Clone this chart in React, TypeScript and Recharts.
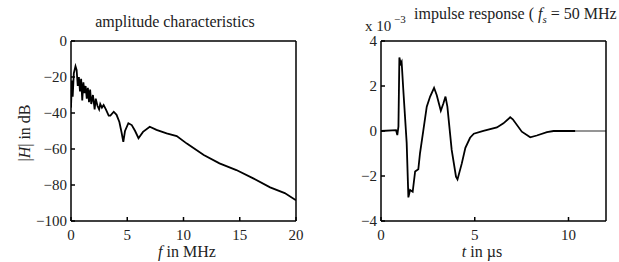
import { LineChart, Line, XAxis, YAxis } from "recharts";

// amplitude characteristics
const freqMHz = [0, 0.08, 0.15, 0.25, 0.4, 0.5, 0.6, 0.7, 0.8, 0.9, 1.0, 1.1, 1.2, 1.3, 1.4, 1.5, 1.6, 1.7, 1.8, 1.95, 2.1, 2.2, 2.35, 2.5, 2.6, 2.75, 2.9, 3.1, 3.35, 3.5, 3.8, 4.05, 4.3, 4.5, 4.65, 4.8, 5.1, 5.4, 5.7, 6.0, 6.4, 7.0, 7.6, 8.5, 9.4, 10.3, 11.8, 13.2, 14.7, 16.2, 17.7, 19, 20];
const magnitudeDb = [-37, -22, -31, -18, -14, -16, -25, -20, -28, -21, -33, -23, -29, -25, -32, -26, -34, -27, -35, -30, -38, -32, -36, -38, -35, -37, -35.6, -38, -41.5, -41.5, -39.3, -41, -45, -51, -56, -50, -45.7, -46.7, -50, -54, -50.5, -47.6, -49.4, -51.3, -52.8, -57, -63.3, -68, -71.7, -76.3, -81.3, -84.5, -88.5];
const freqTicks = [0, 5, 10, 15, 20];
const dbTicks = [-100, -80, -60, -40, -20, 0];

// impulse response, values in units of 1e-3
const timeUs = [0, 0.8, 0.87, 0.93, 0.98, 1.05, 1.1, 1.19, 1.37, 1.46, 1.55, 1.69, 1.82, 1.99, 2.08, 2.26, 2.44, 2.62, 2.83, 2.97, 3.19, 3.33, 3.44, 3.54, 3.77, 4.0, 4.08, 4.31, 4.5, 4.75, 4.95, 5.46, 6.18, 6.53, 6.89, 7.03, 7.51, 7.96, 8.31, 8.85, 9.2, 10.36];
const response = [0, 0.04, -0.18, 0.2, 3.27, 3.0, 3.08, 1.82, -0.54, -2.95, -2.62, -2.7, -1.8, -1.7, -0.99, 0.04, 1.08, 1.53, 1.92, 1.6, 0.9, 1.23, 1.53, 1.08, -0.84, -2.03, -2.15, -1.44, -0.75, -0.3, -0.12, 0.01, 0.16, 0.34, 0.61, 0.52, -0.03, -0.28, -0.2, -0.05, 0, 0];
const tailTimeUs = [10.36, 12];
const tailResponse = [0, 0];
const timeTicks = [0, 5, 10];
const responseTicks = [-4, -2, 0, 2, 4];

const ampData = freqMHz.map((f, i) => ({ f, db: magnitudeDb[i] }));
const respData = timeUs.map((t, i) => ({ t, v: response[i] }));
const tailData = tailTimeUs.map((t, i) => ({ t, v: tailResponse[i] }));

const FONT = "'Liberation Serif', 'DejaVu Serif', serif";
const tickStyle = { fontFamily: FONT, fontSize: 15, fill: "#222" };
const axisLine = { stroke: "#000", strokeWidth: 1.5 };
const minus = (v: number) => String(v).replace("-", "\u2212");

const Panel = ({ children, left, width }: any) => (
    <div style={{ position: "absolute", left, top: 0, width, height: 262 }}>{children}</div>
);

const App = () => {
    return (
        <div style={{ position: "absolute", left: 0, top: 0, width: 619, height: 262, background: "#fff" }}>
            <Panel left={0} width={310}>
                <LineChart width={310} height={262} data={ampData} margin={{ top: 41, right: 14, bottom: 11, left: 31 }}>
                    <XAxis dataKey="f" type="number" domain={[0, 20]} ticks={freqTicks} allowDataOverflow
                        tick={tickStyle} tickSize={-4} tickMargin={12} height={30} axisLine={axisLine} tickLine={axisLine} />
                    <XAxis xAxisId="top" orientation="top" mirror dataKey="f" type="number" domain={[0, 20]} ticks={freqTicks}
                        tick={false} tickSize={4} height={1} axisLine={axisLine} tickLine={axisLine} />
                    <YAxis type="number" domain={[-100, 0]} ticks={dbTicks} allowDataOverflow tickFormatter={minus}
                        tick={tickStyle} tickSize={-4} tickMargin={8} width={40} axisLine={axisLine} tickLine={axisLine} />
                    <YAxis yAxisId="right" orientation="right" mirror type="number" domain={[-100, 0]} ticks={dbTicks}
                        tick={false} tickSize={4} width={1} axisLine={axisLine} tickLine={axisLine} />
                    <Line dataKey="db" type="linear" stroke="#000" strokeWidth={1.8} dot={false} isAnimationActive={false} />
                </LineChart>
            </Panel>

            <Panel left={310} width={309}>
                <LineChart width={309} height={262} margin={{ top: 41, right: 13, bottom: 11, left: 31 }}>
                    <XAxis dataKey="t" type="number" domain={[0, 12]} ticks={timeTicks} allowDataOverflow
                        tick={tickStyle} tickSize={-4} tickMargin={12} height={30} axisLine={axisLine} tickLine={axisLine} />
                    <XAxis xAxisId="top" orientation="top" mirror dataKey="t" type="number" domain={[0, 12]} ticks={timeTicks}
                        tick={false} tickSize={4} height={1} axisLine={axisLine} tickLine={axisLine} />
                    <YAxis type="number" domain={[-4, 4]} ticks={responseTicks} allowDataOverflow tickFormatter={minus}
                        tick={tickStyle} tickSize={-4} tickMargin={8} width={40} axisLine={axisLine} tickLine={axisLine} />
                    <YAxis yAxisId="right" orientation="right" mirror type="number" domain={[-4, 4]} ticks={responseTicks}
                        tick={false} tickSize={4} width={1} axisLine={axisLine} tickLine={axisLine} />
                    <Line data={tailData} dataKey="v" type="linear" stroke="#8a8a8a" strokeWidth={1.8} dot={false} isAnimationActive={false} />
                    <Line data={respData} dataKey="v" type="linear" stroke="#000" strokeWidth={1.8} dot={false} isAnimationActive={false} />
                </LineChart>
            </Panel>

            {/* titles and axis labels */}
            <svg width={619} height={262} style={{ position: "absolute", left: 0, top: 0, pointerEvents: "none" }}
                fontFamily={FONT} fontSize={16} fill="#222">
                <text x={175} y={27} textAnchor="middle">amplitude characteristics</text>
                <text transform="translate(30,133) rotate(-90)" textAnchor="middle">
                    |<tspan fontStyle="italic">H</tspan>| in dB
                </text>
                <text x={187} y={257} textAnchor="middle">
                    <tspan fontStyle="italic">f</tspan> in MHz
                </text>
                <text x={365} y={31} fontSize={15}>x 10</text>
                <text x={394} y={23} fontSize={11}>{"\u22123"}</text>
                <text x={414} y={19}>
                    impulse response ( <tspan fontStyle="italic">f</tspan>
                    <tspan fontSize={11} fontStyle="italic" dy={4}>s</tspan>
                    <tspan dy={-4}> = 50 MHz</tspan>
                </text>
                <text x={482} y={257} textAnchor="middle">
                    <tspan fontStyle="italic">t</tspan> in µs
                </text>
            </svg>
        </div>
    );
};

export default App;
